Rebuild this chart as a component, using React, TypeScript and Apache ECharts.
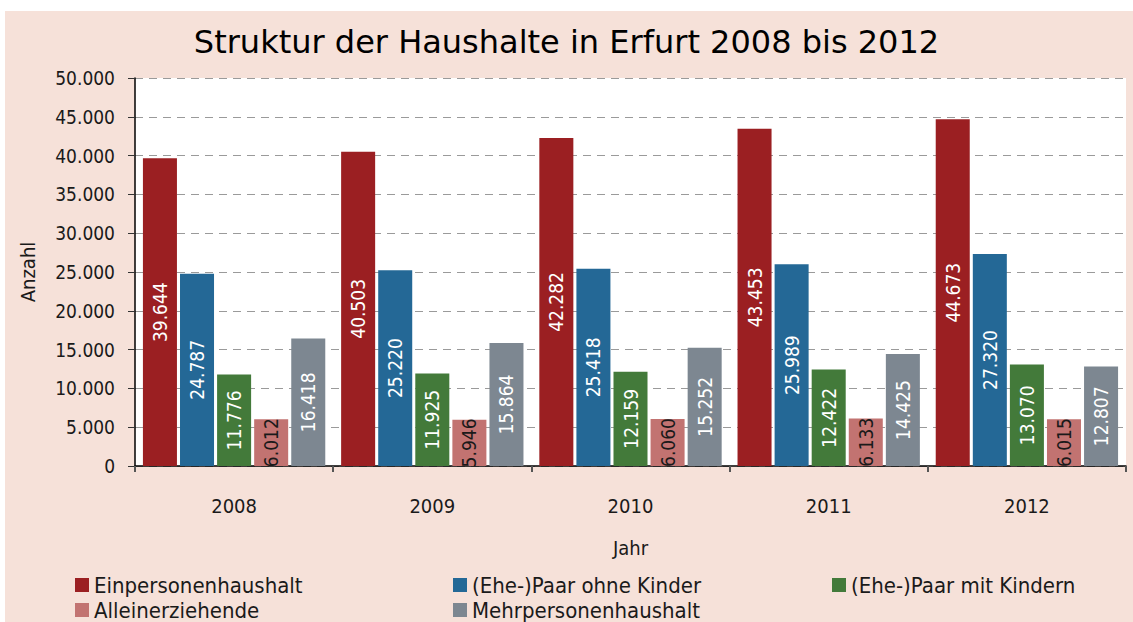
import React, { useEffect, useRef } from "react";
import * as echarts from "echarts";

const years = ["2008", "2009", "2010", "2011", "2012"];
const einpersonen = [39644, 40503, 42282, 43453, 44673];
const paarOhne = [24787, 25220, 25418, 25989, 27320];
const paarMit = [11776, 11925, 12159, 12422, 13070];
const alleinerziehende = [6012, 5946, 6060, 6133, 6015];
const mehrpersonen = [16418, 15864, 15252, 14425, 12807];

const seriesNames = [
  "Einpersonenhaushalt",
  "(Ehe-)Paar ohne Kinder",
  "(Ehe-)Paar mit Kindern",
  "Alleinerziehende",
  "Mehrpersonenhaushalt",
];
const seriesColors = ["#9B1F22", "#246896", "#437A3A", "#C27371", "#7D8791"];
const seriesData = [einpersonen, paarOhne, paarMit, alleinerziehende, mehrpersonen];
const labelColors = ["#ffffff", "#ffffff", "#ffffff", "#1a1a1a", "#ffffff"];

const FONT = "'Liberation Sans Narrow', 'DejaVu Sans Condensed', 'DejaVu Sans', sans-serif";
const fmt = (v: number) => v.toLocaleString("de-DE");

// legend slot positions (left, top) for each series
const legendLeft = [75, 453, 832, 75, 453];
const legendTop = [574, 574, 574, 599, 599];

export default function App() {
  const ref = useRef<HTMLDivElement>(null);
  useEffect(() => {
    document.body.style.margin = "0";
    const chart = echarts.init(ref.current!, null, { renderer: "svg" });
    chart.setOption({
      animation: false,
      backgroundColor: "#ffffff",
      textStyle: { fontFamily: FONT },
      graphic: [
        {
          type: "rect",
          z: -10,
          silent: true,
          shape: { x: 5, y: 11, width: 1128, height: 611 },
          style: { fill: "#F6E1D9" },
        },
      ],
      title: {
        text: "Struktur der Haushalte in Erfurt 2008 bis 2012",
        left: "center",
        top: 21,
        textStyle: {
          fontFamily: "'DejaVu Sans', sans-serif",
          fontSize: 32,
          fontWeight: "normal",
          color: "#000",
        },
      },
      legend: seriesNames.map((name, i) => ({
        left: legendLeft[i],
        top: legendTop[i],
        orient: "horizontal",
        padding: 0,
        itemWidth: 14,
        itemHeight: 14,
        icon: "rect",
        data: [name],
        textStyle: { fontFamily: FONT, fontSize: 22, lineHeight: 20, color: "#1a1a1a" },
      })),
      grid: {
        left: 135,
        right: 7,
        top: 78,
        bottom: 156,
        show: true,
        backgroundColor: "#ffffff",
        borderWidth: 0,
      },
      xAxis: {
        type: "category",
        data: years,
        name: "Jahr",
        nameLocation: "middle",
        nameGap: 72,
        nameTextStyle: { fontFamily: FONT, fontSize: 20, color: "#1a1a1a" },
        axisLine: { lineStyle: { color: "#000", width: 1.5 } },
        axisTick: { show: true, length: 6, lineStyle: { color: "#555", width: 2 } },
        axisLabel: { margin: 30, fontFamily: FONT, fontSize: 20, color: "#1a1a1a" },
      },
      yAxis: {
        type: "value",
        min: 0,
        max: 50000,
        interval: 5000,
        name: "Anzahl",
        nameLocation: "middle",
        nameGap: 97,
        nameTextStyle: { fontFamily: FONT, fontSize: 20, color: "#1a1a1a" },
        axisLine: { show: true, lineStyle: { color: "#000", width: 1.5 } },
        axisTick: { show: true, length: 7, lineStyle: { color: "#333" } },
        axisLabel: {
          margin: 20,
          fontFamily: FONT,
          fontSize: 19,
          color: "#1a1a1a",
          formatter: (v: number) => fmt(v),
        },
        splitLine: { show: true, lineStyle: { color: "#9a9a9a", type: [8, 6], width: 1.2 } },
      },
      series: seriesNames.map((name, i) => ({
        name,
        type: "bar",
        data: seriesData[i],
        barGap: "9%",
        barCategoryGap: "8%",
        itemStyle: { color: seriesColors[i] },
        label: {
          show: true,
          position: "inside",
          rotate: 90,
          fontFamily: FONT,
          fontSize: 19,
          color: labelColors[i],
          formatter: (p: any) => fmt(p.value),
        },
      })),
    });
    return () => chart.dispose();
  }, []);
  return <div ref={ref} style={{ width: 1133, height: 622 }} />;
}
